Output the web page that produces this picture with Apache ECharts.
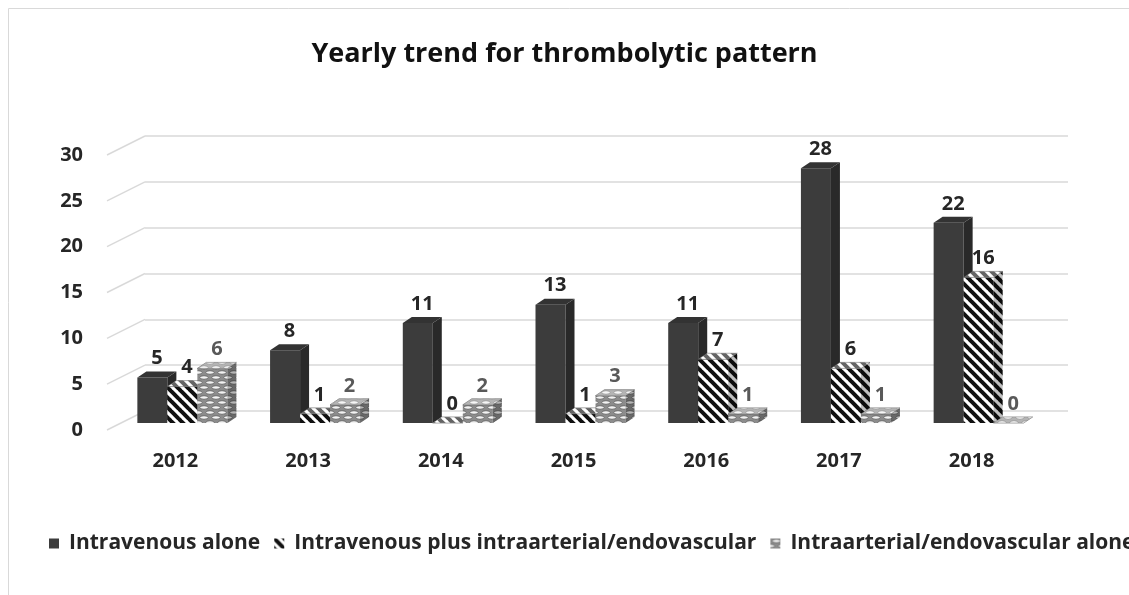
<!DOCTYPE html>
<html>
<head>
<meta charset="utf-8">
<script src="https://cdn.jsdelivr.net/npm/echarts@6/dist/echarts.min.js"></script>
<style>
  html, body { margin: 0; padding: 0; background: #fff; }
  #chart { width: 1129px; height: 595px; }
</style>
</head>
<body>
<div id="chart"></div>
<script>
  const years = ['2012', '2013', '2014', '2015', '2016', '2017', '2018'];
  const ivAlone = [5, 8, 11, 13, 11, 28, 22];
  const ivPlusIa = [4, 1, 0, 1, 7, 6, 16];
  const iaAlone = [6, 2, 2, 3, 1, 1, 0];
  const seriesNames = [
    'Intravenous alone',
    'Intravenous plus intraarterial/endovascular',
    'Intraarterial/endovascular alone',
  ];
  const yTicks = [0, 5, 10, 15, 20, 25, 30];

  const FONT = '"Open Sans", Lato, sans-serif';
  const BAR_W = 30;   // front face width
  const DX = 9;       // depth offset of the bar boxes
  const DY = 6;
  const SHIFT = 7;

  // canvas patterns standing in for the Excel fills
  const makeCanvas = (w, h) => {
    const c = document.createElement('canvas');
    c.width = w;
    c.height = h;
    return c;
  };
  const stripeCanvas = (() => {
    const c = makeCanvas(10, 10);
    const ctx = c.getContext('2d');
    ctx.fillStyle = '#fff';
    ctx.fillRect(0, 0, 10, 10);
    ctx.strokeStyle = '#111';
    ctx.lineWidth = 4;
    [-10, 0, 10].forEach((o) => {
      ctx.beginPath();
      ctx.moveTo(o - 1, -1);
      ctx.lineTo(o + 11, 11);
      ctx.stroke();
    });
    return c;
  })();
  const chainCanvas = (() => {
    const c = makeCanvas(12, 10);
    const ctx = c.getContext('2d');
    ctx.fillStyle = '#8c8c8c';
    ctx.fillRect(0, 0, 12, 10);
    ctx.fillStyle = '#f2f2f2';
    ctx.strokeStyle = '#6e6e6e';
    ctx.lineWidth = 1;
    [[6, 2.5], [0, 7.5], [12, 7.5], [6, 12.5], [0, -2.5], [12, -2.5]].forEach(([x, y]) => {
      ctx.beginPath();
      ctx.ellipse(x, y, 4.2, 1.8, 0, 0, Math.PI * 2);
      ctx.fill();
      ctx.stroke();
    });
    return c;
  })();
  const stripeFill = { image: stripeCanvas, repeat: 'repeat' };
  const chainFill = { image: chainCanvas, repeat: 'repeat' };

  const faceStyles = [
    { front: '#3c3c3c', side: '#292929', top: '#333333', label: '#262626' },
    { front: stripeFill, side: stripeFill, top: stripeFill, label: '#262626' },
    { front: chainFill, side: chainFill, top: chainFill, label: '#595959' },
  ];

  const renderBar = (k) => (params, api) => {
    const i = api.value(0);
    const v = api.value(1);
    const base = api.coord([i, 0]);
    const top = api.coord([i, v]);
    const x0 = base[0] - 1.5 * BAR_W + k * BAR_W + SHIFT;
    const x1 = x0 + BAR_W;
    const yb = base[1];
    const yt = top[1];
    const fs = faceStyles[k];
    const sidePts = [[x1, yt], [x1 + DX, yt - DY], [x1 + DX, yb - DY], [x1, yb]];
    const topPts = [[x0, yt], [x0 + DX, yt - DY], [x1 + DX, yt - DY], [x1, yt]];
    const children = [
      { type: 'rect', shape: { x: x0, y: yt, width: BAR_W, height: yb - yt }, style: { fill: fs.front } },
      { type: 'polygon', shape: { points: sidePts }, style: { fill: fs.side } },
      { type: 'polygon', shape: { points: topPts }, style: { fill: fs.top, stroke: k ? '#555' : null, lineWidth: 0.6 } },
    ];
    if (k > 0) {
      // shade the side, lighten the top like the 3D lighting
      children.push({ type: 'polygon', shape: { points: sidePts }, style: { fill: 'rgba(0,0,0,0.25)' } });
      children.push({ type: 'polygon', shape: { points: topPts }, style: { fill: 'rgba(255,255,255,0.35)' } });
    }
    children.push({
      type: 'text',
      style: {
        text: String(v),
        x: x0 + BAR_W / 2 + DX / 2,
        y: yt - DY - 3,
        align: 'center',
        verticalAlign: 'bottom',
        fill: fs.label,
        font: 'bold 20px ' + FONT,
      },
    });
    return { type: 'group', children };
  };

  const chart = echarts.init(document.getElementById('chart'));

  const option = {
    animation: false,
    title: {
      text: 'Yearly trend for thrombolytic pattern',
      left: 'center',
      top: 36,
      textStyle: { fontFamily: FONT, fontWeight: 'bold', fontSize: 27, color: '#111' },
    },
    graphic: [
      { type: 'rect', shape: { x: 8.5, y: 8.5, width: 1140, height: 620 }, style: { fill: null, stroke: '#d9d9d9', lineWidth: 1 }, silent: true },
    ],
    legend: {
      left: 44,
      top: 528,
      width: 2000,
      itemWidth: 10,
      itemHeight: 10,
      itemGap: 14,
      icon: 'rect',
      textStyle: { fontFamily: FONT, fontWeight: 'bold', fontSize: 21, color: '#262626', padding: [0, 0, 0, 5] },
      data: [
        { name: seriesNames[0], itemStyle: { color: '#3c3c3c' } },
        { name: seriesNames[1], itemStyle: { color: stripeFill } },
        { name: seriesNames[2], itemStyle: { color: chainFill } },
      ],
    },
    grid: [
      // bars (front plane)
      { left: 109, right: 91, top: 150, bottom: 172 },
      // y labels at the front edge of the floor
      { left: 107, right: 984, top: 155, bottom: 165 },
      // back wall
      { left: 145, right: 61, top: 136, bottom: 184 },
    ],
    xAxis: [
      {
        gridIndex: 0,
        type: 'category',
        data: years,
        axisLine: { show: false },
        axisTick: { show: false },
        axisLabel: { margin: 28, fontFamily: FONT, fontWeight: 'bold', fontSize: 20, color: '#262626' },
      },
      { gridIndex: 1, type: 'value', min: 0, max: 1, show: false },
      { gridIndex: 2, type: 'value', min: 0, max: 1, show: false },
    ],
    yAxis: [
      { gridIndex: 0, type: 'value', min: 0, max: 30, interval: 5, show: false },
      {
        gridIndex: 1,
        type: 'value',
        min: 0,
        max: 30,
        interval: 5,
        axisLine: { show: false },
        axisTick: { show: false },
        splitLine: { show: false },
        axisLabel: { margin: 24, fontFamily: FONT, fontWeight: 'bold', fontSize: 20, color: '#262626' },
      },
      {
        gridIndex: 2,
        type: 'value',
        min: 0,
        max: 30,
        interval: 5,
        axisLine: { show: false },
        axisTick: { show: false },
        axisLabel: { show: false },
        splitLine: { lineStyle: { color: '#d9d9d9', width: 1.5 } },
      },
    ],
    series: [
      {
        type: 'custom',
        name: 'floorEdges',
        xAxisIndex: 1,
        yAxisIndex: 1,
        silent: true,
        data: yTicks.map((t) => [0, t]),
        renderItem: (params, api) => {
          const p = api.coord([0, api.value(1)]);
          return {
            type: 'line',
            shape: { x1: p[0], y1: p[1], x2: p[0] + 38, y2: p[1] - 19 },
            style: { stroke: '#d9d9d9', lineWidth: 1.5 },
          };
        },
      },
      ...[ivAlone, ivPlusIa, iaAlone].map((vals, k) => ({
        type: 'custom',
        name: seriesNames[k],
        xAxisIndex: 0,
        yAxisIndex: 0,
        itemStyle: { color: faceStyles[k].front },
        data: vals.map((v, i) => [i, v]),
        renderItem: renderBar(k),
      })),
    ],
  };

  chart.setOption(option);
</script>
</body>
</html>
